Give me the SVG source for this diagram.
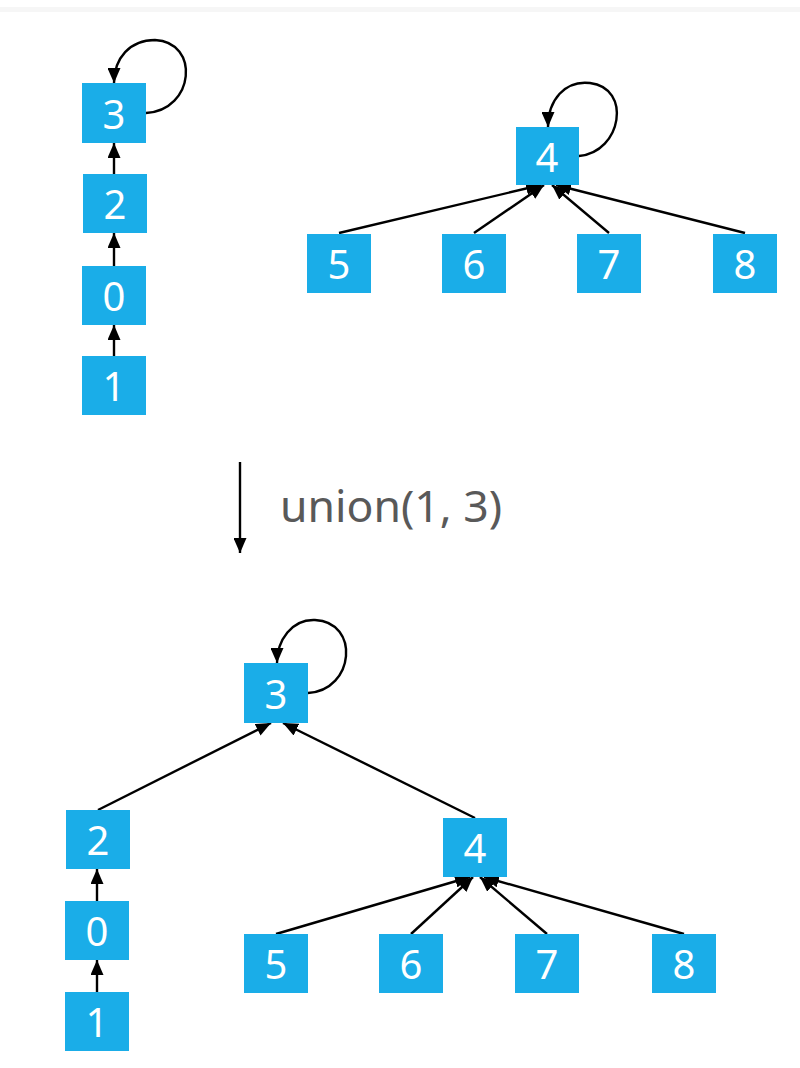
<svg xmlns="http://www.w3.org/2000/svg" width="800" height="1068" viewBox="0 0 800 1068">
<style>
.box{fill:#1AADE8}
.lbl{fill:#ffffff;font-family:"Noto Sans","Open Sans","Liberation Sans",sans-serif;font-size:40px;text-anchor:middle}
.edge{stroke:#000;stroke-width:2.4;fill:none;marker-end:url(#ah)}
.cap{fill:#595959;font-family:"Noto Sans","Open Sans","Liberation Sans",sans-serif;font-size:44px}
</style>
<defs>
<marker id="ah" viewBox="0 0 15 13" refX="15" refY="6.5" markerWidth="15" markerHeight="13" orient="auto" markerUnits="userSpaceOnUse">
<path d="M0,0 L15,6.5 L0,13 z" fill="#000"/>
</marker>
</defs>
<rect x="0" y="0" width="800" height="1068" fill="#ffffff"/>
<rect x="0" y="7" width="800" height="5" fill="#f6f6f6"/>

<g id="connectors">
<path class="edge" d="M146,113 C195,110 200,42 155,40 C130,40 114,58 114,83"/>
<line class="edge" x1="114" y1="174" x2="114" y2="143"/>
<line class="edge" x1="114" y1="266" x2="114" y2="233"/>
<line class="edge" x1="114" y1="356" x2="114" y2="325"/>
<path class="edge" d="M579,156 C622,152 632,88 590,83 C565,80 548,100 548,127"/>
<line class="edge" x1="339" y1="233" x2="541" y2="185"/>
<line class="edge" x1="474" y1="233" x2="544" y2="185"/>
<line class="edge" x1="609" y1="233" x2="552" y2="185"/>
<line class="edge" x1="745" y1="233" x2="556" y2="185"/>
<line class="edge" x1="240" y1="462" x2="240" y2="553"/>
<path class="edge" d="M308,693 C355,690 360,622 315,620 C292,619 277,640 277,663"/>
<line class="edge" x1="98" y1="810" x2="271" y2="723"/>
<line class="edge" x1="475" y1="818" x2="283" y2="723"/>
<line class="edge" x1="97" y1="901" x2="97" y2="869"/>
<line class="edge" x1="97" y1="992" x2="97" y2="960"/>
<line class="edge" x1="276" y1="934" x2="470" y2="877"/>
<line class="edge" x1="411" y1="934" x2="473" y2="877"/>
<line class="edge" x1="547" y1="934" x2="480" y2="877"/>
<line class="edge" x1="684" y1="934" x2="484" y2="877"/>
</g>

<text class="cap" x="280" y="522" textLength="222" lengthAdjust="spacingAndGlyphs">union(1, 3)</text>

<g id="t-3"><rect class="box" x="82" y="83" width="64" height="60"/><text class="lbl" x="114" y="129">3</text></g>
<g id="t-2"><rect class="box" x="83" y="174" width="64" height="59"/><text class="lbl" x="115" y="219">2</text></g>
<g id="t-0"><rect class="box" x="82" y="266" width="64" height="59"/><text class="lbl" x="114" y="311">0</text></g>
<g id="t-1"><rect class="box" x="82" y="356" width="64" height="59"/><text class="lbl" x="114" y="401">1</text></g>
<g id="t-4"><rect class="box" x="516" y="127" width="63" height="58"/><text class="lbl" x="547" y="172">4</text></g>
<g id="t-5"><rect class="box" x="307" y="234" width="64" height="59"/><text class="lbl" x="339" y="279">5</text></g>
<g id="t-6"><rect class="box" x="442" y="234" width="64" height="59"/><text class="lbl" x="474" y="279">6</text></g>
<g id="t-7"><rect class="box" x="577" y="234" width="64" height="59"/><text class="lbl" x="609" y="279">7</text></g>
<g id="t-8"><rect class="box" x="713" y="234" width="64" height="59"/><text class="lbl" x="745" y="279">8</text></g>

<g id="b-3"><rect class="box" x="244" y="663" width="64" height="60"/><text class="lbl" x="276" y="709">3</text></g>
<g id="b-2"><rect class="box" x="66" y="810" width="64" height="59"/><text class="lbl" x="98" y="855">2</text></g>
<g id="b-0"><rect class="box" x="65" y="901" width="64" height="59"/><text class="lbl" x="97" y="946">0</text></g>
<g id="b-1"><rect class="box" x="65" y="992" width="64" height="59"/><text class="lbl" x="97" y="1037">1</text></g>
<g id="b-4"><rect class="box" x="443" y="818" width="64" height="59"/><text class="lbl" x="475" y="863">4</text></g>
<g id="b-5"><rect class="box" x="244" y="934" width="64" height="59"/><text class="lbl" x="276" y="979">5</text></g>
<g id="b-6"><rect class="box" x="379" y="934" width="64" height="59"/><text class="lbl" x="411" y="979">6</text></g>
<g id="b-7"><rect class="box" x="515" y="934" width="64" height="59"/><text class="lbl" x="547" y="979">7</text></g>
<g id="b-8"><rect class="box" x="652" y="934" width="64" height="59"/><text class="lbl" x="684" y="979">8</text></g>
</svg>
